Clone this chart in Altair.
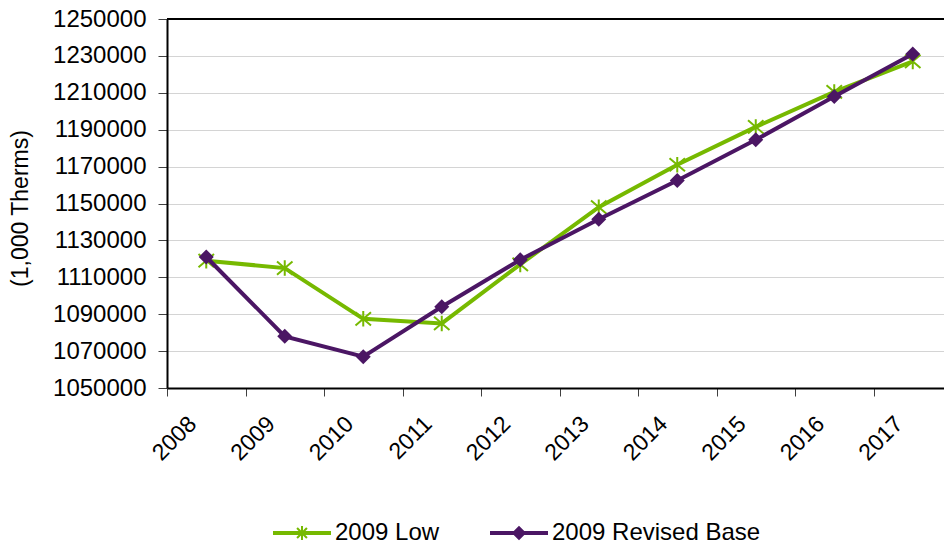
import altair as alt
import pandas as pd

# Annual gas demand, thousands of therms
years = ["2008", "2009", "2010", "2011", "2012", "2013", "2014", "2015", "2016", "2017"]
low_2009 = [1119000, 1115000, 1087500, 1085000, 1117000, 1148000, 1171000, 1191500, 1210500, 1227000]
revised_base_2009 = [1121000, 1078000, 1067000, 1094000, 1119500, 1141500, 1162500, 1184500, 1208000, 1231000]
series_names = ["2009 Low", "2009 Revised Base"]
y_ticks = list(range(1050000, 1250001, 20000))

GREEN = "#76B900"
PURPLE = "#4B1664"
FONT = "Liberation Sans"

rows = []
for name, vals in zip(series_names, [low_2009, revised_base_2009]):
    for yr, v in zip(years, vals):
        rows.append({"year": yr, "value": v, "series": name})
df = pd.DataFrame(rows)

x_enc = alt.X(
    "year:O",
    sort=years,
    scale=alt.Scale(type="band", paddingInner=0, paddingOuter=0, range=[0, 785]),
    axis=alt.Axis(
        title=None,
        tickBand="extent",
        tickSize=8,
        tickColor="#404040",
        tickWidth=1,
        domainColor="black",
        domainWidth=2,
        labelAngle=315,
        labelAlign="right",
        labelBaseline="middle",
        labelPadding=24,
        labelOffset=-14,
        labelFont=FONT,
        labelFontSize=23,
        labelColor="black",
        grid=False,
    ),
)
y_enc = alt.Y(
    "value:Q",
    scale=alt.Scale(domain=[1050000, 1250000], nice=False, zero=False),
    axis=alt.Axis(
        title="(1,000 Therms)",
        titleFont=FONT,
        titleFontSize=23,
        titleFontWeight="normal",
        titleColor="black",
        titleAngle=270,
        titleX=-147,
        titleY=189,
        titleAlign="center",
        titleBaseline="middle",
        values=y_ticks,
        format="d",
        tickSize=9,
        tickColor="#404040",
        tickWidth=1,
        domainColor="black",
        domainWidth=2,
        labelPadding=12,
        labelFont=FONT,
        labelFontSize=24,
        labelColor="black",
        grid=True,
        gridColor="#D4D4D4",
        gridWidth=1.2,
    ),
)

base = alt.Chart(df).encode(x=x_enc, y=y_enc)

low = base.transform_filter(alt.datum.series == "2009 Low")
rev = base.transform_filter(alt.datum.series == "2009 Revised Base")

star_path = "M0,-1L0,1M-1,-0.85L1,0.85M-1,0.85L1,-0.85"

low_line = low.mark_line(color=GREEN, strokeWidth=4)
low_pts = low.mark_point(shape=star_path, size=240, filled=False, color=GREEN, strokeWidth=2, opacity=1)
rev_line = rev.mark_line(color=PURPLE, strokeWidth=4)
rev_pts = rev.mark_point(shape="diamond", size=225, filled=True, color=PURPLE, opacity=1)

# legend glyphs: a line segment with the series marker on it
legend_low = (
    "M-1,-0.069H1V0.069H-1Z"
    "M-0.035,-0.24H0.035V0.24H-0.035Z"
    "M-0.145,-0.195L0.195,0.145L0.145,0.195L-0.195,-0.145Z"
    "M-0.195,0.145L0.145,-0.195L0.195,-0.145L-0.145,0.195Z"
)
legend_rev = (
    "M-1,-0.065H1V0.065H-1Z"
    "M0,-0.25L0.25,0L0,0.25L-0.25,0Z"
)

# legend-only layer: no rows survive the filter, the scale domain supplies the entries
legend_layer = base.transform_filter("false").mark_point(filled=True, opacity=1).encode(
    color=alt.Color(
        "series:N",
        scale=alt.Scale(domain=series_names, range=[GREEN, PURPLE]),
        legend=alt.Legend(
            title=None,
            orient="none",
            direction="horizontal",
            legendX=106,
            legendY=485,
            symbolSize=3364,
            symbolOpacity=1,
            symbolStrokeWidth=0,
            labelFont=FONT,
            labelFontSize=24,
            labelColor="black",
            labelLimit=400,
            labelOffset=4,
            columnPadding=50,
            padding=0,
        ),
    ),
    shape=alt.Shape(
        "series:N",
        scale=alt.Scale(domain=series_names, range=[legend_low, legend_rev]),
    ),
)

top_border = alt.Chart(df).mark_rule(color="black", strokeWidth=2).encode(
    x=alt.value(0), x2=alt.value(777), y=alt.value(0)
)

chart = (
    alt.layer(low_line, low_pts, rev_line, rev_pts, legend_layer, top_border)
    .properties(
        width=777,
        height=369,
        autosize=alt.AutoSizeParams(type="none"),
        padding={"left": 167, "top": 19, "right": 0, "bottom": 161},
        background="white",
    )
    .configure_view(stroke=None)
)

chart.save("out.html", embed_options={"renderer": "svg", "actions": False})
